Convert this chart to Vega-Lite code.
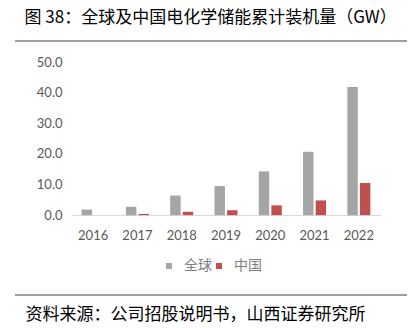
{
  "$schema": "https://vega.github.io/schema/vega-lite/v6.json",
  "width": 392,
  "height": 254,
  "autosize": {"type": "none"},
  "padding": {"left": 15, "top": 41, "right": 8, "bottom": 33},
  "background": "white",
  "config": {"view": {"stroke": null}},
  "title": {
    "text": "图 38：全球及中国电化学储能累计装机量（GW）",
    "anchor": "start",
    "frame": "bounds",
    "dx": 10,
    "offset": 14,
    "font": "Noto Sans CJK SC",
    "fontSize": 17,
    "fontWeight": "normal",
    "color": "#000000"
  },
  "layer": [
    {
      "data": {
        "values": [
          {"year": "2016", "region": "全球", "value": 1.8},
          {"year": "2016", "region": "中国", "value": 0.0},
          {"year": "2017", "region": "全球", "value": 2.7},
          {"year": "2017", "region": "中国", "value": 0.4},
          {"year": "2018", "region": "全球", "value": 6.4},
          {"year": "2018", "region": "中国", "value": 1.1},
          {"year": "2019", "region": "全球", "value": 9.5},
          {"year": "2019", "region": "中国", "value": 1.6},
          {"year": "2020", "region": "全球", "value": 14.3},
          {"year": "2020", "region": "中国", "value": 3.2},
          {"year": "2021", "region": "全球", "value": 20.7},
          {"year": "2021", "region": "中国", "value": 4.8},
          {"year": "2022", "region": "全球", "value": 41.9},
          {"year": "2022", "region": "中国", "value": 10.5}
        ]
      },
      "mark": {"type": "bar"},
      "encoding": {
        "x": {
          "field": "year",
          "type": "nominal",
          "scale": {"range": [56, 366], "paddingInner": 0.48, "paddingOuter": 0.24},
          "axis": {
            "title": "资料来源：公司招股说明书，山西证券研究所",
            "titleFont": "Noto Sans CJK SC",
            "titleFontSize": 17,
            "titleFontWeight": "normal",
            "titleColor": "#000000",
            "titleX": 10,
            "titleY": 99,
            "titleAlign": "left",
            "titleBaseline": "middle",
            "titleAngle": 0,
            "offset": -80,
            "labelAngle": 0,
            "labelFont": "Lato",
            "labelFontSize": 13,
            "labelColor": "#595959",
            "labelPadding": 14,
            "ticks": false,
            "domainColor": "#D9D9D9",
            "domainWidth": 1.2
          }
        },
        "xOffset": {
          "field": "region",
          "type": "nominal",
          "sort": ["全球", "中国"],
          "scale": {"paddingInner": 0.17}
        },
        "y": {
          "field": "value",
          "type": "quantitative",
          "scale": {"domain": [-26.1, 56.9], "nice": false, "zero": false},
          "axis": {
            "title": null,
            "values": [0, 10, 20, 30, 40, 50],
            "format": ".1f",
            "offset": -47,
            "labelPadding": 0,
            "labelFont": "Lato",
            "labelFontSize": 13,
            "labelColor": "#595959",
            "ticks": false,
            "domain": false,
            "grid": false
          }
        },
        "color": {
          "field": "region",
          "type": "nominal",
          "sort": ["全球", "中国"],
          "scale": {"domain": ["全球", "中国"], "range": ["#A5A5A5", "#C0504D"]},
          "legend": {
            "title": null,
            "orient": "none",
            "direction": "horizontal",
            "legendX": 147,
            "legendY": 218,
            "symbolType": "square",
            "symbolSize": 36,
            "symbolStrokeWidth": 0,
            "labelFont": "Noto Sans CJK SC",
            "labelFontSize": 14,
            "labelColor": "#7F7F7F",
            "labelOffset": 8,
            "columnPadding": 0,
            "padding": 0
          }
        }
      }
    },
    {
      "data": {"values": [{}]},
      "mark": {"type": "rule", "color": "#404040", "strokeWidth": 1},
      "encoding": {"y": {"datum": 56.9, "type": "quantitative"}}
    },
    {
      "data": {"values": [{}]},
      "mark": {"type": "rule", "color": "#404040", "strokeWidth": 1},
      "encoding": {"y": {"datum": -26.1, "type": "quantitative"}}
    }
  ]
}
